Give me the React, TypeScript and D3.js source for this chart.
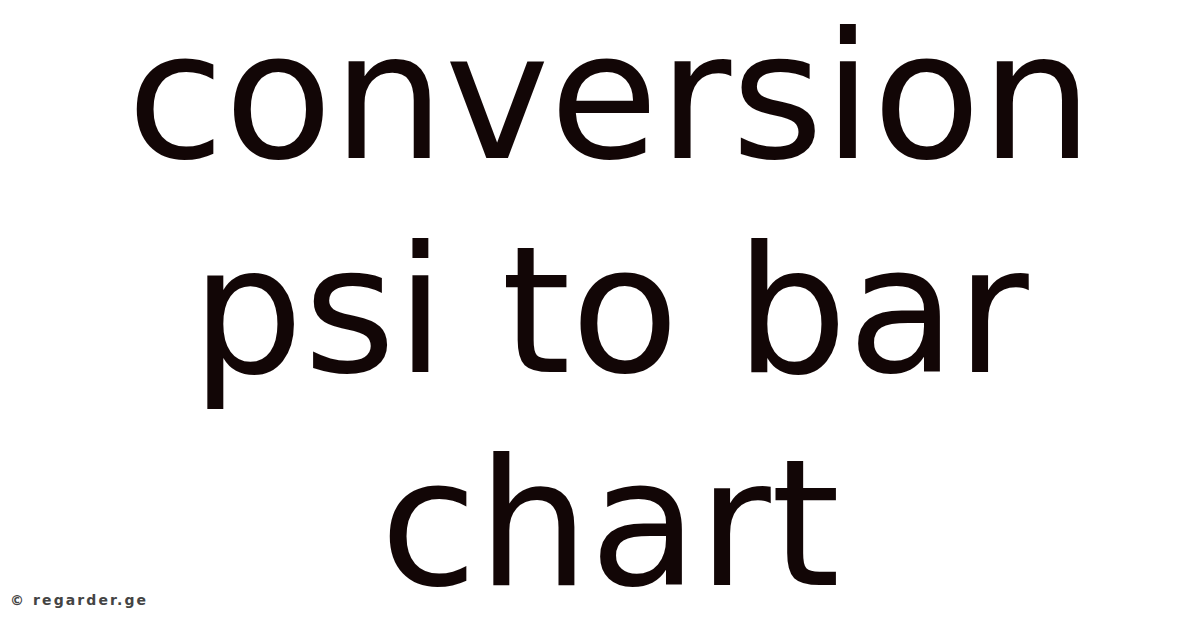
import * as d3 from 'd3';

// Title lines, top to bottom
const titleLines: string[] = ['conversion', 'psi to bar', 'chart'];
const footerText = '© regarder.ge';

const W = 1200;
const H = 628;

export default function App() {
  // Baselines of the three lines spread evenly down the card
  const yLine = d3
    .scalePoint<string>()
    .domain(titleLines)
    .range([158, 585]);

  return (
    <svg
      width={W}
      height={H}
      viewBox={`0 0 ${W} ${H}`}
      style={{ position: 'absolute', left: 0, top: 0, background: '#ffffff' }}
    >
      <rect width={W} height={H} fill='#ffffff' />
      {titleLines.map((line) => (
        <text
          key={line}
          x={610}
          y={yLine(line)}
          textAnchor='middle'
          fontFamily='DejaVu Sans'
          fontSize={177}
          fill='#120606'
        >
          {line}
        </text>
      ))}
      <text
        x={10}
        y={605}
        fontFamily='DejaVu Sans'
        fontWeight='bold'
        fontSize={14}
        letterSpacing={2.1}
        fill='#444444'
      >
        {footerText}
      </text>
    </svg>
  );
}
